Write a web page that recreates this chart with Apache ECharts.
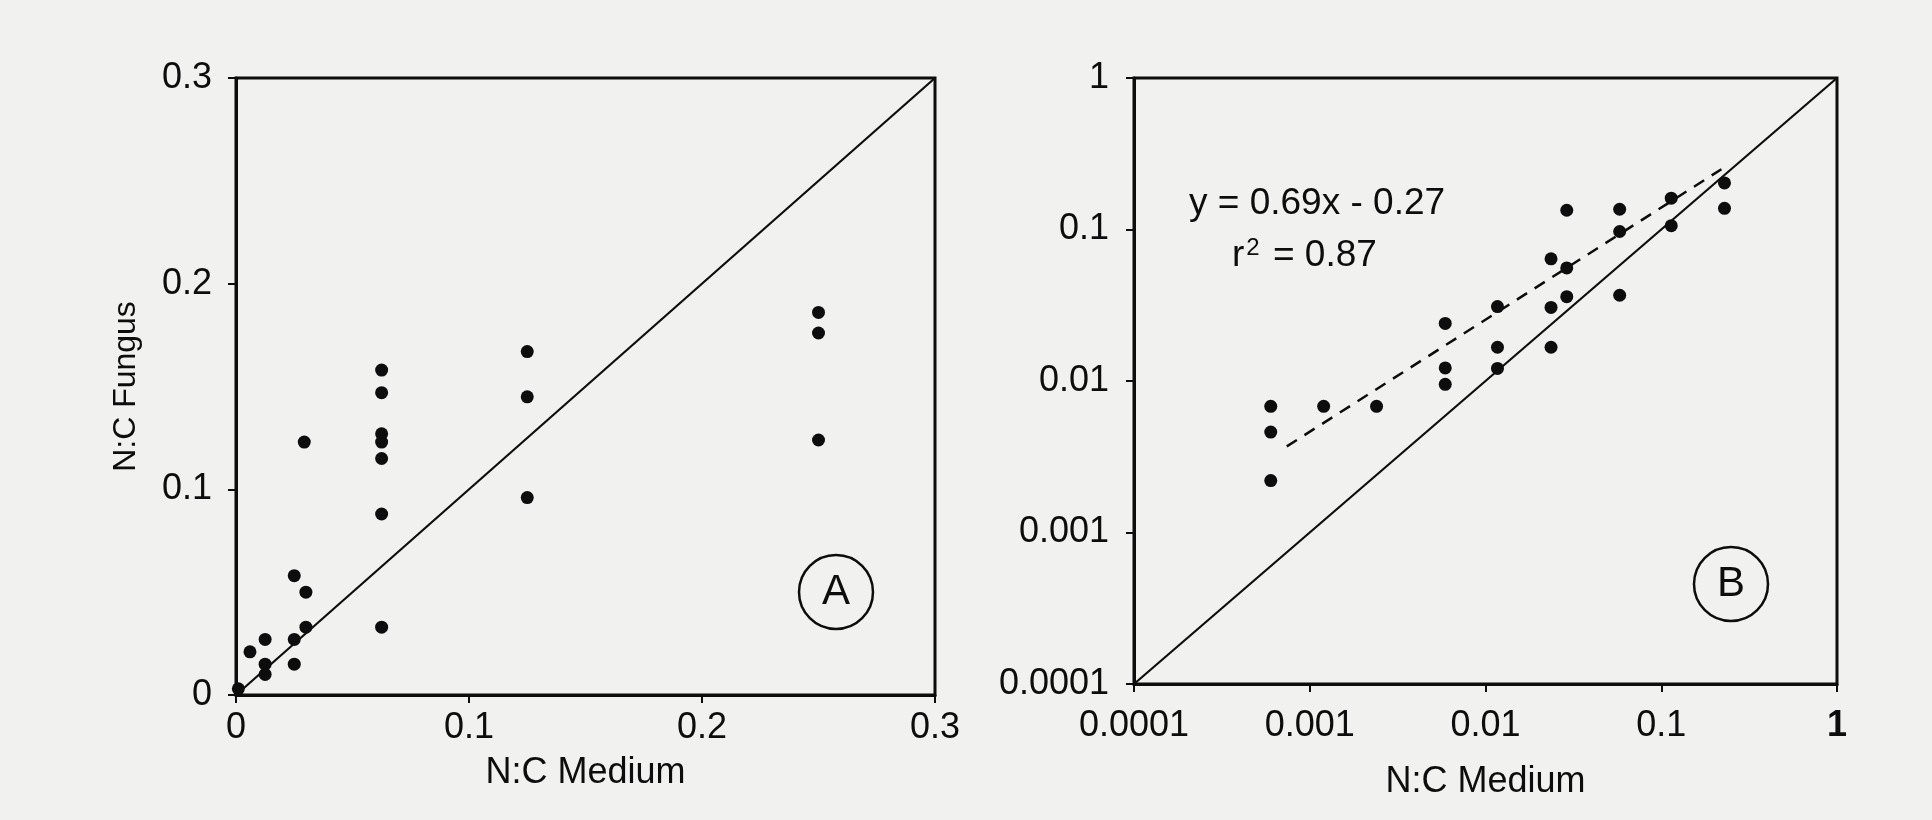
<!DOCTYPE html>
<html>
<head>
<meta charset="utf-8">
<script src="https://cdn.jsdelivr.net/npm/echarts@6/dist/echarts.min.js"></script>
<style>
html,body{margin:0;padding:0;background:#f1f1ef;}
#chart{width:1932px;height:820px;}
</style>
</head>
<body>
<div id="chart"></div>
<script>
// ---- Data ----
// Panel A: linear N:C Medium (x) vs N:C Fungus (y)
var pointsA_x = [0.001, 0.006, 0.0125, 0.0125, 0.0125, 0.025, 0.03, 0.025, 0.03, 0.025, 0.0293,
                 0.0625, 0.0625, 0.0625, 0.0625, 0.0625, 0.0625, 0.0625,
                 0.125, 0.125, 0.125, 0.25, 0.25, 0.25];
var pointsA_y = [0.003, 0.021, 0.027, 0.015, 0.010, 0.058, 0.050, 0.027, 0.033, 0.015, 0.123,
                 0.158, 0.147, 0.127, 0.123, 0.115, 0.088, 0.033,
                 0.167, 0.145, 0.096, 0.186, 0.176, 0.124];
// Panel B: log-log
var pointsB_x = [0.0006, 0.0006, 0.0006, 0.0012, 0.0024,
                 0.0059, 0.0059, 0.0059, 0.0117, 0.0117, 0.0117,
                 0.0236, 0.0236, 0.0236, 0.029, 0.029, 0.029,
                 0.058, 0.058, 0.058, 0.114, 0.114, 0.229, 0.229];
var pointsB_y = [0.0068, 0.0046, 0.0022, 0.0068, 0.0068,
                 0.024, 0.0122, 0.0095, 0.031, 0.0167, 0.0121,
                 0.064, 0.0306, 0.0167, 0.134, 0.0558, 0.036,
                 0.136, 0.097, 0.0368, 0.161, 0.106, 0.203, 0.138];
// Reference lines
var diagA = [[0, 0], [0.3, 0.3]];
var diagB = [[0.0001, 0.0001], [1, 1]];
var regLineB = [[0.00074, 0.0037], [0.22, 0.25]];
// Tick labels
var ticksA = ['0', '0.1', '0.2', '0.3'];
var ticksB = ['0.0001', '0.001', '0.01', '0.1', '1'];
var regText = 'y = 0.69x - 0.27';
var r2Text = '0.87';

function zip(xs, ys){ return xs.map(function(x,i){ return [x, ys[i]]; }); }

var FONT = 'Liberation Sans, Arial, sans-serif';
var INK = '#0d0d0d';
var fs = 36;

function labA(v){ var i = Math.round(v/0.1); return ticksA[i] !== undefined ? ticksA[i] : ''; }
function labB(v){ var i = Math.round(Math.log10(v)) + 4; return ticksB[i] !== undefined ? ticksB[i] : ''; }
function labBx(v){ var i = Math.round(Math.log10(v)) + 4; var t = ticksB[i] !== undefined ? ticksB[i] : '';
  return i === 4 ? '{bold|' + t + '}' : t; }

var axisCommon = {
  axisLine: {show: true, onZero: false, lineStyle: {color: INK, width: 3}},
  axisTick: {show: true, length: 8, lineStyle: {color: INK, width: 2}},
  splitLine: {show: false},
  nameTextStyle: {fontFamily: FONT, fontSize: fs, color: INK}
};

var chart = echarts.init(document.getElementById('chart'), null, {renderer: 'canvas'});
var option = {
  backgroundColor: '#f1f1ef',
  animation: false,
  grid: [
    {left: 236, top: 78, width: 699, height: 617, show: true, borderColor: INK, borderWidth: 3, backgroundColor: 'transparent'},
    {left: 1134, top: 78, width: 703, height: 606, show: true, borderColor: INK, borderWidth: 3, backgroundColor: 'transparent'}
  ],
  xAxis: [
    Object.assign({}, axisCommon, {
      gridIndex: 0, type: 'value', min: 0, max: 0.3, interval: 0.1,
      name: 'N:C Medium', nameLocation: 'middle', nameGap: 60,
      axisLabel: {margin: 15, fontFamily: FONT, fontSize: fs, color: INK, formatter: labA}
    }),
    Object.assign({}, axisCommon, {
      gridIndex: 1, type: 'log', logBase: 10, min: 0.0001, max: 1,
      name: 'N:C Medium', nameLocation: 'middle', nameGap: 80,
      axisLabel: {margin: 24, fontFamily: FONT, fontSize: fs, color: INK, formatter: labBx,
        rich: {bold: {fontFamily: FONT, fontSize: fs, fontWeight: 'bold', color: INK}}}
    })
  ],
  yAxis: [
    Object.assign({}, axisCommon, {
      gridIndex: 0, type: 'value', min: 0, max: 0.3, interval: 0.1,
      name: 'N:C Fungus', nameLocation: 'middle', nameGap: 94,
      nameTextStyle: {fontFamily: FONT, fontSize: 32, color: INK},
      axisLabel: {margin: 24, fontFamily: FONT, fontSize: fs, color: INK, formatter: labA}
    }),
    Object.assign({}, axisCommon, {
      gridIndex: 1, type: 'log', logBase: 10, min: 0.0001, max: 1,
      axisLabel: {margin: 25, fontFamily: FONT, fontSize: fs, color: INK, formatter: labB}
    })
  ],
  series: [
    {type: 'line', xAxisIndex: 0, yAxisIndex: 0, data: diagA, symbol: 'none',
     lineStyle: {color: INK, width: 2.2}, silent: true, z: 2},
    {type: 'scatter', xAxisIndex: 0, yAxisIndex: 0, data: zip(pointsA_x, pointsA_y),
     symbol: 'circle', symbolSize: 13, itemStyle: {color: INK, opacity: 1}, z: 3},
    {type: 'line', xAxisIndex: 1, yAxisIndex: 1, data: diagB, symbol: 'none',
     lineStyle: {color: INK, width: 2.2}, silent: true, z: 2},
    {type: 'line', xAxisIndex: 1, yAxisIndex: 1, data: regLineB, symbol: 'none',
     lineStyle: {color: INK, width: 2.5, type: [12, 9]}, silent: true, z: 2},
    {type: 'scatter', xAxisIndex: 1, yAxisIndex: 1, data: zip(pointsB_x, pointsB_y),
     symbol: 'circle', symbolSize: 13, itemStyle: {color: INK, opacity: 1}, z: 3}
  ],
  graphic: [
    {type: 'circle', shape: {cx: 836, cy: 592, r: 37}, style: {fill: 'none', stroke: INK, lineWidth: 2.5}},
    {type: 'text', x: 836, y: 592, style: {text: 'A', fontFamily: FONT, fontSize: 42, fill: INK, align: 'center', verticalAlign: 'middle'}},
    {type: 'circle', shape: {cx: 1731, cy: 584, r: 37}, style: {fill: 'none', stroke: INK, lineWidth: 2.5}},
    {type: 'text', x: 1731, y: 584, style: {text: 'B', fontFamily: FONT, fontSize: 42, fill: INK, align: 'center', verticalAlign: 'middle'}},
    {type: 'text', x: 1189, y: 204, style: {text: regText, fontFamily: FONT, fontSize: 37, fill: INK, align: 'left', verticalAlign: 'middle'}},
    {type: 'text', x: 1232, y: 256, style: {
      text: '{b|r}{s|2}{b| = ' + r2Text + '}', align: 'left', verticalAlign: 'middle',
      rich: {
        b: {fontFamily: FONT, fontSize: 37, fill: INK, color: INK},
        s: {fontFamily: FONT, fontSize: 24, fill: INK, color: INK, verticalAlign: 'top', padding: [0, 3, 16, 2]}
      }
    }}
  ]
};
chart.setOption(option);
</script>
</body>
</html>
